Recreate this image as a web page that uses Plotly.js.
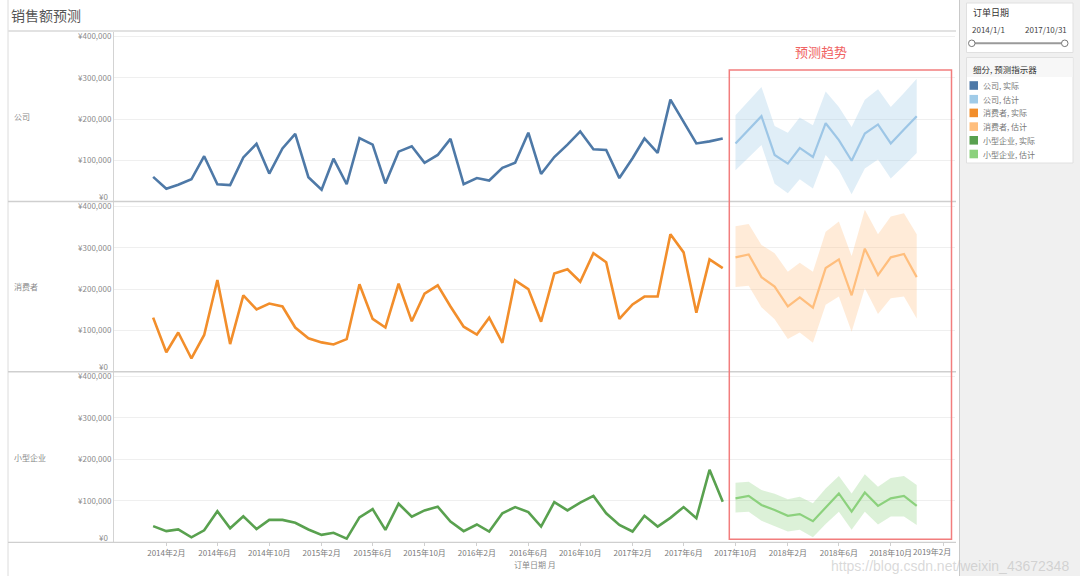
<!DOCTYPE html>
<html><head><meta charset="utf-8">
<script src="https://cdn.plot.ly/plotly-3.0.1.min.js"></script>
<style>html,body{margin:0;padding:0;background:#fff;}#chart{width:1080px;height:576px;}</style>
</head><body><div id="chart"></div>
<script>
// ---- data ----
const actualMonths = ['2014-01','2014-02','2014-03','2014-04','2014-05','2014-06','2014-07','2014-08','2014-09','2014-10','2014-11','2014-12',
'2015-01','2015-02','2015-03','2015-04','2015-05','2015-06','2015-07','2015-08','2015-09','2015-10','2015-11','2015-12',
'2016-01','2016-02','2016-03','2016-04','2016-05','2016-06','2016-07','2016-08','2016-09','2016-10','2016-11','2016-12',
'2017-01','2017-02','2017-03','2017-04','2017-05','2017-06','2017-07','2017-08','2017-09'];
const forecastMonths = ['2017-10','2017-11','2017-12','2018-01','2018-02','2018-03','2018-04','2018-05','2018-06','2018-07','2018-08','2018-09','2018-10','2018-11','2018-12'];

const companyActual = [60,31,41,54,110,42,40,107,140,68,129,164,59,29,104,42,154,138,44,121,134,94,113,152,42,57,51,82,94,167,67,108,138,170,127,125,57,105,153,118,247,194,141,146,153];
const companyEst    = [141,174,207,113,92,130,108,190,149,99,165,187,141,175,207];
const companyUpper  = [209,244,278,183,167,204,185,267,229,181,247,272,229,263,298];
const companyLower  = [76,106,137,43,20,54,32,113,76,18,80,102,56,87,118];

const consumerActual = [131,47,95,32,89,222,67,185,151,165,158,107,81,71,66,79,212,128,107,213,122,189,209,158,109,90,131,70,221,200,121,238,248,218,287,265,128,163,182,182,333,289,143,272,251];
const consumerEst    = [277,284,229,206,158,180,155,251,272,185,298,234,277,285,229];
const consumerUpper  = [352,358,307,287,242,264,242,339,364,280,392,333,376,384,333];
const consumerLower  = [205,208,156,127,79,95,70,162,182,97,202,140,178,182,129];

const smbActual = [39,27,31,12,29,75,34,63,32,54,54,47,31,18,23,9,60,80,30,93,62,77,86,50,27,43,26,70,85,73,38,97,77,96,112,70,42,26,64,38,59,85,58,175,98];
const smbEst    = [106,112,90,78,64,68,51,85,118,74,120,88,106,112,88];
const smbUpper  = [144,146,126,117,104,110,94,130,160,118,164,134,155,160,138];
const smbLower  = [72,74,52,39,26,30,12,44,74,30,74,43,62,62,42];

const segments = ['公司','消费者','小型企业'];
const legendLabels = ['公司, 实际','公司, 估计','消费者, 实际','消费者, 估计','小型企业, 实际','小型企业, 估计'];
const xTickVals = ['2014-02','2014-06','2014-10','2015-02','2015-06','2015-10','2016-02','2016-06','2016-10','2017-02','2017-06','2017-10','2018-02','2018-06','2018-10','2019-02'];
const xTickText = ['2014年2月','2014年6月','2014年10月','2015年2月','2015年6月','2015年10月','2016年2月','2016年6月','2016年10月','2017年2月','2017年6月','2017年10月','2018年2月','2018年6月','2018年10月',''];
const lastTickText = '2019年2月';
const yTickVals = [100000,200000,300000,400000];
const yTickText = ['¥100,000','¥200,000','¥300,000','¥400,000'];

// ---- styling ----
const K = v => v.map(d => d*1000);
const W = 1080, H = 576;
const PX = x => x/W, PY = y => 1 - y/H;
const FONT = 'Noto Sans CJK SC, Noto Sans, sans-serif';

const panels = [
  {xa:'x2', ya:'y',  act:companyActual, est:companyEst, up:companyUpper, lo:companyLower,
   cA:'#4e79a7', cE:'#9dc6e6', fill:'rgba(160,203,232,0.33)'},
  {xa:'x3', ya:'y2', act:consumerActual, est:consumerEst, up:consumerUpper, lo:consumerLower,
   cA:'#f28e2b', cE:'#ffbe7d', fill:'rgba(255,190,125,0.30)'},
  {xa:'x',  ya:'y3', act:smbActual, est:smbEst, up:smbUpper, lo:smbLower,
   cA:'#59a14f', cE:'#8cd17d', fill:'rgba(140,209,125,0.30)'}
];

const traces = [];
panels.forEach(p => {
  traces.push({x:forecastMonths, y:K(p.lo), xaxis:p.xa, yaxis:p.ya, mode:'lines', line:{width:0, color:p.cE}, hoverinfo:'skip'});
  traces.push({x:forecastMonths, y:K(p.up), xaxis:p.xa, yaxis:p.ya, mode:'lines', line:{width:0, color:p.cE}, fill:'tonexty', fillcolor:p.fill, hoverinfo:'skip'});
  traces.push({x:forecastMonths, y:K(p.est), xaxis:p.xa, yaxis:p.ya, mode:'lines', line:{width:2.2, color:p.cE}});
  traces.push({x:actualMonths, y:K(p.act), xaxis:p.xa, yaxis:p.ya, mode:'lines', line:{width:2.6, color:p.cA}});
});

const xRange = ['2013-10-01','2019-03-01'];
const xDomain = [PX(114), PX(955)];
const xBase = {type:'date', range:xRange, domain:xDomain, showgrid:false, zeroline:false, showline:false, fixedrange:true};
const yBase = {range:[0,411000], tickvals:yTickVals, ticktext:yTickText, showgrid:true, gridcolor:'#efefef', gridwidth:1,
  zeroline:false, showline:true, linecolor:'#d3d3d3', linewidth:1, ticks:'', tickfont:{family:FONT, size:8, color:'#8a8a8a'}, fixedrange:true};

const shapes = [
  {type:'line', xref:'paper', yref:'paper', x0:PX(8), x1:PX(8), y0:PY(0), y1:PY(576), line:{color:'#dcdcdc', width:1}},
  {type:'line', xref:'paper', yref:'paper', x0:PX(8), x1:PX(956), y0:PY(31), y1:PY(31), line:{color:'#e2e2e2', width:2}},
  {type:'line', xref:'paper', yref:'paper', x0:PX(8), x1:PX(956), y0:PY(201.5), y1:PY(201.5), line:{color:'#cfcfcf', width:1.5}},
  {type:'line', xref:'paper', yref:'paper', x0:PX(8), x1:PX(956), y0:PY(371.7), y1:PY(371.7), line:{color:'#cfcfcf', width:1.5}},
  {type:'line', xref:'paper', yref:'paper', x0:PX(8), x1:PX(956), y0:PY(542.3), y1:PY(542.3), line:{color:'#cfcfcf', width:1.2}},
  {type:'rect', xref:'paper', yref:'paper', x0:PX(960), x1:PX(1080), y0:PY(0), y1:PY(576), fillcolor:'#f0f0f0', line:{width:0}, layer:'below'},
  {type:'line', xref:'paper', yref:'paper', x0:PX(959.5), x1:PX(959.5), y0:PY(0), y1:PY(576), line:{color:'#c9c9c9', width:1}},
  {type:'rect', xref:'paper', yref:'paper', x0:PX(966.5), x1:PX(1073), y0:PY(3), y1:PY(52.5), fillcolor:'#ffffff', line:{color:'#e0e0e0', width:1}},
  {type:'rect', xref:'paper', yref:'paper', x0:PX(966.5), x1:PX(1073), y0:PY(57.5), y1:PY(163), fillcolor:'#ffffff', line:{color:'#e0e0e0', width:1}},
  {type:'rect', xref:'paper', yref:'paper', x0:PX(967), x1:PX(1072.5), y0:PY(58), y1:PY(77), fillcolor:'#f7f7f7', line:{width:0}},
  {type:'line', xref:'paper', yref:'paper', x0:PX(972), x1:PX(1064), y0:PY(43.3), y1:PY(43.3), line:{color:'#9a9a9a', width:2}},
  {type:'circle', xref:'paper', yref:'paper', x0:PX(968.5), x1:PX(975), y0:PY(40), y1:PY(46.6), fillcolor:'#fff', line:{color:'#777', width:1}},
  {type:'circle', xref:'paper', yref:'paper', x0:PX(1061.5), x1:PX(1068), y0:PY(40), y1:PY(46.6), fillcolor:'#fff', line:{color:'#777', width:1}},
  {type:'rect', xref:'paper', yref:'paper', x0:PX(729.3), x1:PX(951.5), y0:PY(70), y1:PY(539.3), line:{color:'#f27d7d', width:1.5}, fillcolor:'rgba(0,0,0,0)', layer:'above'}
];

const swatchColors = ['#4e79a7','#a0cbe8','#f28e2b','#ffbe7d','#59a14f','#8cd17d'];
const annotations = [
  {text:'销售额预测', xref:'paper', yref:'paper', x:PX(9), y:PY(15), xanchor:'left', yanchor:'middle', showarrow:false, font:{family:FONT, size:14, color:'#555'}},
  {text:'预测趋势', xref:'paper', yref:'paper', x:PX(821), y:PY(51.5), xanchor:'center', yanchor:'middle', showarrow:false, font:{family:FONT, size:13, color:'#f06262'}},
  {text:'订单日期 月', xref:'paper', yref:'paper', x:PX(535), y:PY(564), xanchor:'center', yanchor:'middle', showarrow:false, font:{family:FONT, size:8, color:'#888'}},
  {text:lastTickText, xref:'paper', yref:'paper', x:PX(953), y:PY(551.5), xanchor:'right', yanchor:'middle', showarrow:false, font:{family:FONT, size:8, color:'#7a7a7a'}},
  {text:'订单日期', xref:'paper', yref:'paper', x:PX(971), y:PY(12.5), xanchor:'left', yanchor:'middle', showarrow:false, font:{family:FONT, size:9, color:'#333'}},
  {text:'2014/1/1', xref:'paper', yref:'paper', x:PX(970), y:PY(29.5), xanchor:'left', yanchor:'middle', showarrow:false, font:{family:FONT, size:8, color:'#444'}},
  {text:'2017/10/31', xref:'paper', yref:'paper', x:PX(1068.5), y:PY(29.5), xanchor:'right', yanchor:'middle', showarrow:false, font:{family:FONT, size:8, color:'#444'}},
  {text:'细分, 预测指示器', xref:'paper', yref:'paper', x:PX(971), y:PY(69), xanchor:'left', yanchor:'middle', showarrow:false, font:{family:FONT, size:8.5, color:'#333'}},
  {text:'https://blog.csdn.net/weixin_43672348', xref:'paper', yref:'paper', x:PX(1071), y:PY(566), xanchor:'right', yanchor:'middle', showarrow:false, font:{family:'Liberation Sans, Arial, sans-serif', size:14, color:'rgba(185,185,185,0.55)'}}
];
const rowY = [116.5, 286.7, 457.3];
segments.forEach((s,i) => annotations.push({text:s, xref:'paper', yref:'paper', x:PX(12), y:PY(rowY[i]), xanchor:'left', yanchor:'middle', showarrow:false, font:{family:FONT, size:8, color:'#8a8a8a'}}));
['y','y2','y3'].forEach(ya => annotations.push({text:'¥0', xref:'paper', yref:ya, x:PX(110), y:0, yshift:5, xanchor:'right', yanchor:'middle', showarrow:false, font:{family:FONT, size:8, color:'#8a8a8a'}}));
legendLabels.forEach((t,i) => {
  const cy = 85.5 + i*13.7;
  shapes.push({type:'rect', xref:'paper', yref:'paper', x0:PX(969.5), x1:PX(978), y0:PY(cy-4.3), y1:PY(cy+4.3), fillcolor:swatchColors[i], line:{width:0}});
  annotations.push({text:t, xref:'paper', yref:'paper', x:PX(981), y:PY(cy), xanchor:'left', yanchor:'middle', showarrow:false, font:{family:FONT, size:8, color:'#777'}});
});

const layout = {
  width:W, height:H, margin:{l:0,r:0,t:0,b:0}, paper_bgcolor:'#ffffff', plot_bgcolor:'rgba(0,0,0,0)', showlegend:false,
  font:{family:FONT, size:8, color:'#888'}, hovermode:false,
  xaxis: Object.assign({}, xBase, {anchor:'y3', tickvals:xTickVals, ticktext:xTickText, ticks:'outside', ticklen:3, tickcolor:'#d0d0d0',
    tickfont:{family:FONT, size:8, color:'#7a7a7a'}}),
  xaxis2: Object.assign({}, xBase, {anchor:'y', showticklabels:false}),
  xaxis3: Object.assign({}, xBase, {anchor:'y2', showticklabels:false}),
  yaxis: Object.assign({}, yBase, {domain:[PY(201.6), PY(32)], anchor:'x2'}),
  yaxis2: Object.assign({}, yBase, {domain:[PY(371.7), PY(202)], anchor:'x3'}),
  yaxis3: Object.assign({}, yBase, {domain:[PY(542.3), PY(372)], anchor:'x'}),
  shapes: shapes, annotations: annotations
};

Plotly.newPlot('chart', traces, layout, {displayModeBar:false, staticPlot:true});
</script></body></html>
